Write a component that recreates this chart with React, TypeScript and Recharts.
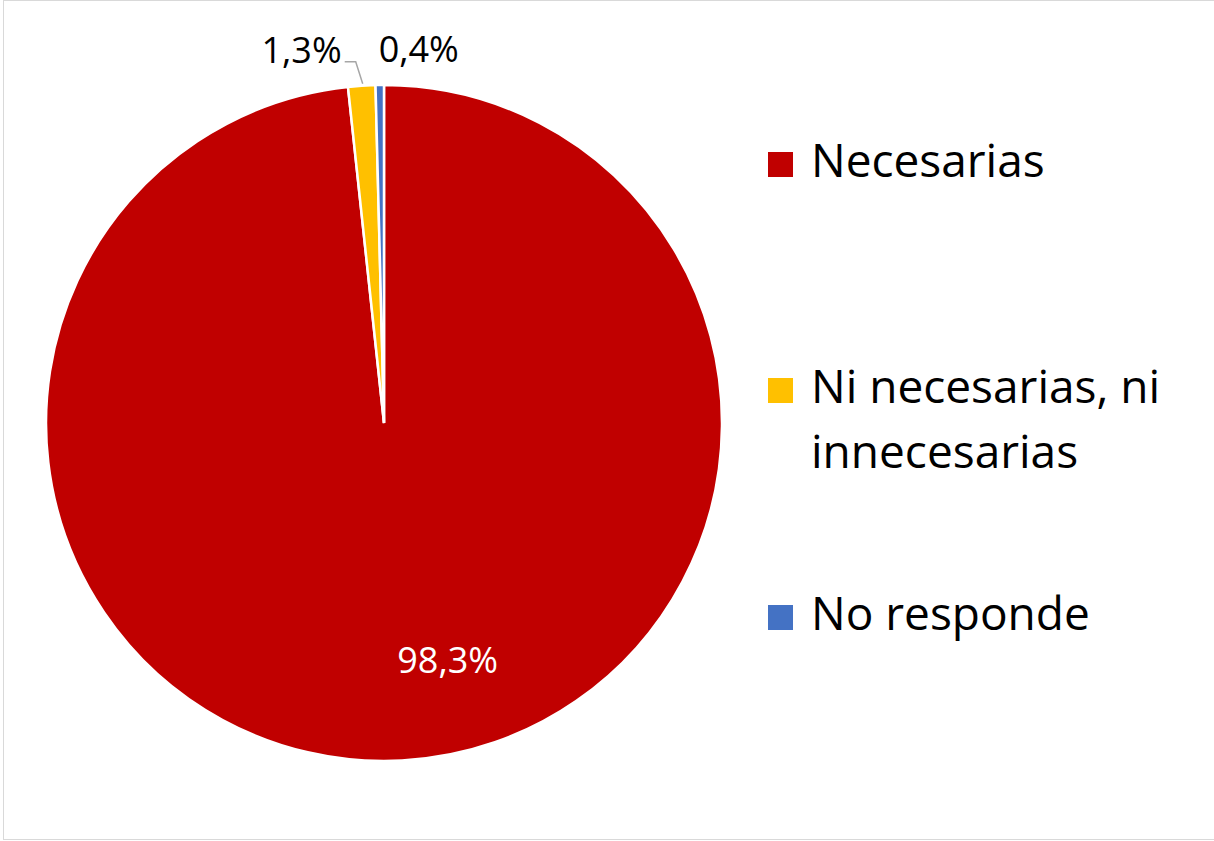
import React from 'react';
import { PieChart, Pie, Cell, Legend } from 'recharts';

const CATEGORIES = ['Necesarias', 'Ni necesarias, ni innecesarias', 'No responde'];
const VALUES = [98.3, 1.3, 0.4];
const COLORS = ['#C00000', '#FFC000', '#4472C4'];

const data = CATEGORIES.map((name, i) => ({ name, value: VALUES[i] }));

const FONT = '"Open Sans", "Noto Sans", sans-serif';
const RAD = Math.PI / 180;

const fmt = (v: number) => v.toFixed(1).replace('.', ',') + '%';

const renderLabel = (props: any) => {
  const { cx, cy, midAngle, outerRadius, index, value } = props;
  if (index === 0) {
    const r = outerRadius * 0.725;
    const a = (midAngle + 12) * RAD;
    const x = cx + r * Math.cos(a);
    const y = cy - r * Math.sin(a);
    return (
      <text x={x} y={y} fill="#FFFFFF" fontSize={36} fontFamily={FONT} textAnchor="middle" dominantBaseline="central">
        {fmt(value)}
      </text>
    );
  }
  const ex = cx + outerRadius * Math.cos(midAngle * RAD);
  const ey = cy - outerRadius * Math.sin(midAngle * RAD);
  if (index === 1) {
    const bx = ex - 6;
    const by = ey - 24;
    return (
      <g>
        <polyline points={`${ex + 1},${ey - 2} ${bx},${by} ${bx - 11},${by}`} fill="none" stroke="#A6A6A6" strokeWidth={1.5} />
        <text x={bx - 14} y={by + 1} fill="#000000" fontSize={36} fontFamily={FONT} textAnchor="end">
          {fmt(value)}
        </text>
      </g>
    );
  }
  return (
    <text x={ex + 39} y={ey - 23} fill="#000000" fontSize={36} fontFamily={FONT} textAnchor="middle">
      {fmt(value)}
    </text>
  );
};

const LEGEND_TOPS = [127, 353, 580];

const renderLegend = (props: any) => {
  const payload = props.payload || [];
  return (
    <div style={{ position: 'relative', width: 446, height: 841 }}>
      {payload.map((entry: any, i: number) => (
        <div key={i} style={{ position: 'absolute', left: 0, top: LEGEND_TOPS[i], display: 'flex', alignItems: 'flex-start' }}>
          <div style={{ width: 25, height: 25, marginTop: 25, background: COLORS[i], flex: 'none' }} />
          <div style={{ marginLeft: 18, width: 400, fontFamily: FONT, fontSize: 46, lineHeight: '65px', color: '#000000' }}>
            {entry.value}
          </div>
        </div>
      ))}
    </div>
  );
};

export default function App() {
  return (
    <div style={{ position: 'absolute', left: 0, top: 0, width: 1214, height: 841, background: '#FFFFFF', overflow: 'hidden' }}>
      <div style={{ position: 'absolute', left: 3, top: 0, width: 1230, height: 840, border: '1px solid #D9D9D9', boxSizing: 'border-box' }} />
      <PieChart width={1214} height={841} margin={{ top: 0, right: 0, bottom: 0, left: 0 }}>
        <Pie
          data={data}
          dataKey="value"
          nameKey="name"
          cx={384}
          cy={423}
          outerRadius={338}
          startAngle={90}
          endAngle={-270}
          stroke="#FFFFFF"
          strokeWidth={2.5}
          label={renderLabel}
          labelLine={false}
          isAnimationActive={false}
        >
          {data.map((d, i) => (
            <Cell key={d.name} fill={COLORS[i]} />
          ))}
        </Pie>
        <Legend
          content={renderLegend}
          wrapperStyle={{ position: 'absolute', left: 768, top: 0, width: 446, height: 841 }}
        />
      </PieChart>
    </div>
  );
}
